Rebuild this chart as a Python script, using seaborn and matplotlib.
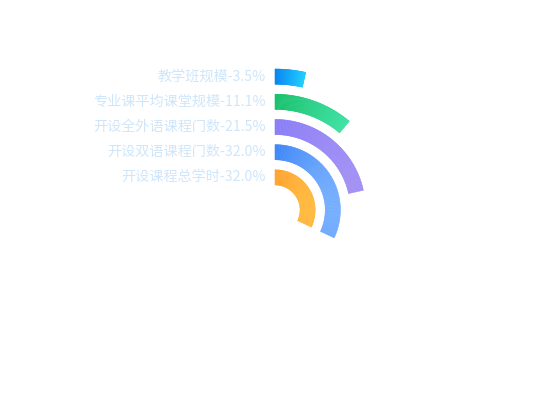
import numpy as np
import matplotlib
matplotlib.use("Agg")
import matplotlib.pyplot as plt
import matplotlib.transforms as mtransforms
import seaborn as sns

# ---- data (innermost -> outermost) ----
categories = ["开设课程总学时", "开设双语课程门数", "开设全外语课程门数", "专业课平均课堂规模", "教学班规模"]
values = [32.0, 32.0, 21.5, 11.1, 3.5]
angle_max = 100.0
start_colors = ["#ffa22e", "#3d86f7", "#897df7", "#17c06a", "#0a84f0"]
end_colors = ["#ffc043", "#7cb3ff", "#a592f4", "#3fe3a8", "#22d3ff"]
label_color = "#cfe6fa"

sns.set_theme(style="white")
plt.rcParams["font.family"] = ["Noto Sans CJK SC", "DejaVu Sans"]

W, H, DPI = 550, 420, 100
fig = plt.figure(figsize=(W / DPI, H / DPI), dpi=DPI)
fig.patch.set_facecolor("white")

cx, cy, R = 275, 210, 146  # pixel geometry of polar area
ax = fig.add_axes([(cx - R) / W, (cy - R) / H, 2 * R / W, 2 * R / H], projection="polar")
ax.set_theta_zero_location("N")
ax.set_theta_direction(-1)
n = len(categories)
band_px = 25.2
inner_off = 20 / band_px
ax.set_ylim(-inner_off, n)
ax.set_thetalim(0, 2 * np.pi)
ax.set_axis_off()

bar_h = 0.6
nseg = 80
for i, (cat, v) in enumerate(zip(categories, values)):
    r_mid = i + 0.5
    r_out = r_mid + bar_h / 2
    th = v / angle_max * 2 * np.pi
    cmap = sns.blend_palette([start_colors[i], end_colors[i]], n_colors=256, as_cmap=True)
    xmax = (r_out + inner_off) * (1.0 if th >= np.pi / 2 else np.sin(th))
    edges = np.linspace(0, th, nseg + 1)
    for a0, a1 in zip(edges[:-1], edges[1:]):
        am = 0.5 * (a0 + a1)
        frac = np.clip((r_mid + inner_off) * np.sin(am) / xmax, 0, 1)
        col = cmap(frac)
        ax.barh(r_mid, a1 - a0, height=bar_h, left=a0, color=col,
                edgecolor=col, linewidth=0.4, align="center")

# labels at the start of each bar
offset = mtransforms.ScaledTranslation(-9 / DPI, 0.5 / DPI, fig.dpi_scale_trans)
for i, (cat, v) in enumerate(zip(categories, values)):
    ax.text(0, i + 0.5, f"{cat}-{v:.1f}%", transform=ax.transData + offset,
            ha="right", va="center", fontsize=10.2, color=label_color,
            fontweight="medium", clip_on=False)

fig.savefig("out.png", dpi=DPI, facecolor="white")
